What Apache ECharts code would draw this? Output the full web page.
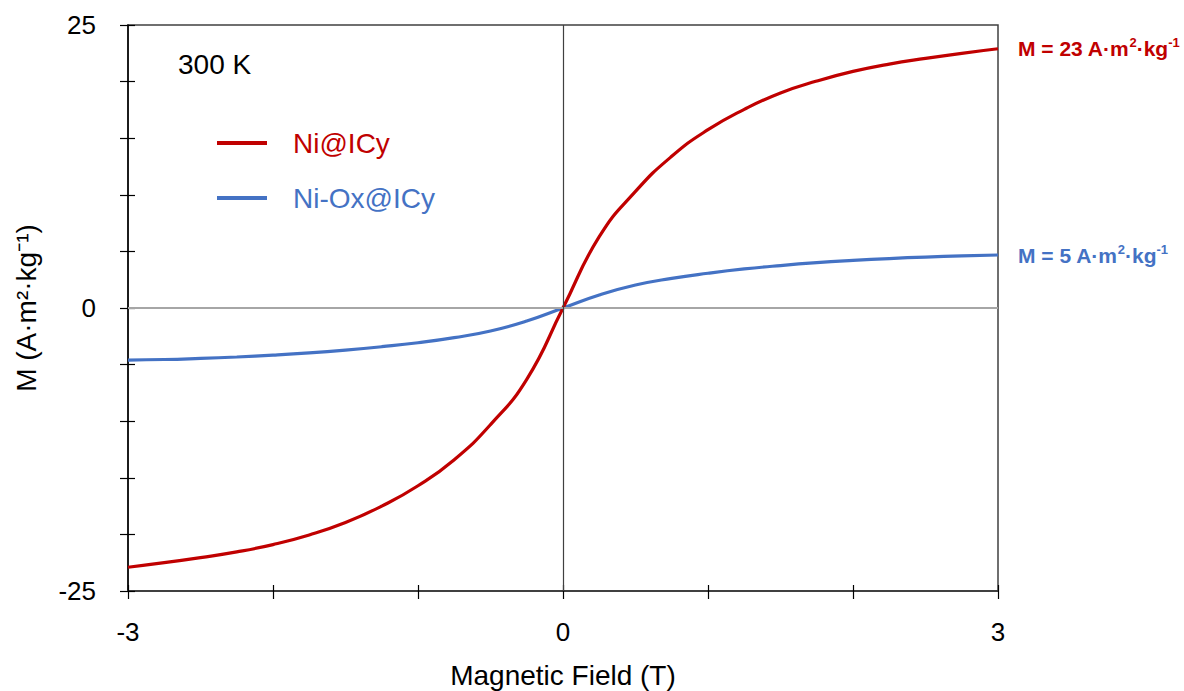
<!DOCTYPE html>
<html>
<head>
<meta charset="utf-8">
<script src="https://cdn.jsdelivr.net/npm/echarts@6/dist/echarts.min.js"></script>
<style>
html,body{margin:0;padding:0;background:#fff;}
#c{width:1184px;height:691px;}
</style>
</head>
<body>
<div id="c"></div>
<script>
// Magnetic field (T)
const fieldT = [-3, -2.75, -2.5, -2.25, -2, -1.75, -1.5, -1.25, -1, -0.75, -0.5, -0.25, 0,
                0.25, 0.5, 0.75, 1, 1.25, 1.5, 1.75, 2, 2.25, 2.5, 2.75, 3];
// M (A·m²·kg⁻¹)
const niICy = [-22.9, -22.5, -22.05, -21.55, -20.9, -20.05, -18.95, -17.5, -15.7, -13.4, -10.3, -6.3, 0,
               6.3, 10.3, 13.4, 15.75, 17.55, 19.0, 20.05, 20.9, 21.55, 22.05, 22.5, 22.9];
const niOxICy = [-4.6, -4.55, -4.45, -4.33, -4.17, -3.97, -3.72, -3.42, -3.07, -2.62, -2.03, -1.15, 0,
                 1.15, 2.03, 2.62, 3.07, 3.45, 3.75, 4.0, 4.2, 4.37, 4.5, 4.6, 4.68];
const seriesNames = ['Ni@ICy', 'Ni-Ox@ICy'];
const satLabels = ['23', '5'];
const xTickLabels = [-3, 0, 3];
const yTickLabels = [-25, 0, 25];

const RED = '#C00000', BLUE = '#4472C4';
const FONT = '"Liberation Sans", Arial, sans-serif';

function pairs(xs, ys) { return xs.map((x, i) => [x, ys[i]]); }

const chart = echarts.init(document.getElementById('c'), null, {renderer: 'svg'});

function endLabel(color, val) {
  return {
    show: true,
    distance: 20,
    color: color,
    fontFamily: FONT,
    fontWeight: 'bold',
    fontSize: 21,
    formatter: '{n|M = ' + val + ' A·m}{s|2}{n|·kg}{s|-1}',
    rich: {
      n: {color: color, fontFamily: FONT, fontWeight: 'bold', fontSize: 21, lineHeight: 25},
      s: {color: color, fontFamily: FONT, fontWeight: 'bold', fontSize: 13, verticalAlign: 'top', lineHeight: 15}
    }
  };
}

const xBase = {
  type: 'value', min: -3, max: 3, interval: 1,
  position: 'bottom',
  splitLine: {show: false}
};
const yBase = {
  type: 'value', min: -25, max: 25, interval: 5,
  position: 'left',
  splitLine: {show: false}
};

const option = {
  animation: false,
  backgroundColor: '#fff',
  textStyle: {fontFamily: FONT},
  title: {
    text: '300 K', left: 178, top: 50, padding: 0,
    textStyle: {fontFamily: FONT, fontWeight: 'normal', fontSize: 28, color: '#000'}
  },
  legend: {
    orient: 'vertical', left: 217, top: 128, padding: 0,
    icon: 'rect', itemWidth: 50, itemHeight: 4, itemGap: 25,
    data: [
      {name: seriesNames[0], textStyle: {color: RED}},
      {name: seriesNames[1], textStyle: {color: BLUE}}
    ],
    textStyle: {fontFamily: FONT, fontSize: 28, lineHeight: 30, padding: [0, 0, 0, 21]}
  },
  grid: {
    left: 128, right: 186, top: 25, bottom: 100,
    containLabel: false, outerBoundsMode: 'none',
    show: true, borderColor: '#404040', borderWidth: 1.5, backgroundColor: 'transparent'
  },
  xAxis: [
    Object.assign({}, xBase, {
      name: 'Magnetic Field (T)', nameLocation: 'middle', nameGap: 70,
      nameTextStyle: {fontFamily: FONT, fontSize: 28, color: '#000'},
      axisLine: {show: true, onZero: false, lineStyle: {color: '#404040', width: 2}},
      axisTick: {show: true, inside: false, length: 8, lineStyle: {color: '#000', width: 1.2}},
      axisLabel: {
        fontFamily: FONT, fontSize: 26, color: '#000', margin: 28,
        formatter: v => xTickLabels.indexOf(v) >= 0 ? String(v) : ''
      }
    }),
    Object.assign({}, xBase, {
      axisLine: {show: false, onZero: false},
      axisTick: {show: true, inside: true, length: 6, lineStyle: {color: '#000', width: 1.2}},
      axisLabel: {show: false}
    })
  ],
  yAxis: [
    Object.assign({}, yBase, {
      name: 'M (A·m²·kg⁻¹)', nameLocation: 'middle', nameGap: 88, nameRotate: 90,
      nameTextStyle: {fontFamily: FONT, fontSize: 28, color: '#000'},
      axisLine: {show: true, onZero: false, lineStyle: {color: '#000', width: 1.5}},
      axisTick: {show: true, inside: false, length: 8, lineStyle: {color: '#000', width: 1.2}},
      axisLabel: {
        fontFamily: FONT, fontSize: 26, color: '#000', margin: 32,
        formatter: v => yTickLabels.indexOf(v) >= 0 ? String(v) : ''
      }
    }),
    Object.assign({}, yBase, {
      axisLine: {show: false, onZero: false},
      axisTick: {show: true, inside: true, length: 7, lineStyle: {color: '#000', width: 1.2}},
      axisLabel: {show: false}
    })
  ],
  series: [
    {
      name: 'zero-lines', type: 'line', data: [], silent: true,
      markLine: {
        silent: true, symbol: 'none', label: {show: false},
        data: [
          {yAxis: 0, lineStyle: {color: '#a6a6a6', width: 2, type: 'solid'}},
          {xAxis: 0, lineStyle: {color: '#404040', width: 1.2, type: 'solid'}}
        ]
      }
    },
    {
      name: seriesNames[1], type: 'line', data: pairs(fieldT, niOxICy),
      showSymbol: false, smooth: 0.5, color: BLUE,
      lineStyle: {color: BLUE, width: 3.2},
      endLabel: endLabel(BLUE, satLabels[1])
    },
    {
      name: seriesNames[0], type: 'line', data: pairs(fieldT, niICy),
      showSymbol: false, smooth: 0.5, color: RED,
      lineStyle: {color: RED, width: 3.2},
      endLabel: endLabel(RED, satLabels[0])
    }
  ]
};
chart.setOption(option);
</script>
</body>
</html>
